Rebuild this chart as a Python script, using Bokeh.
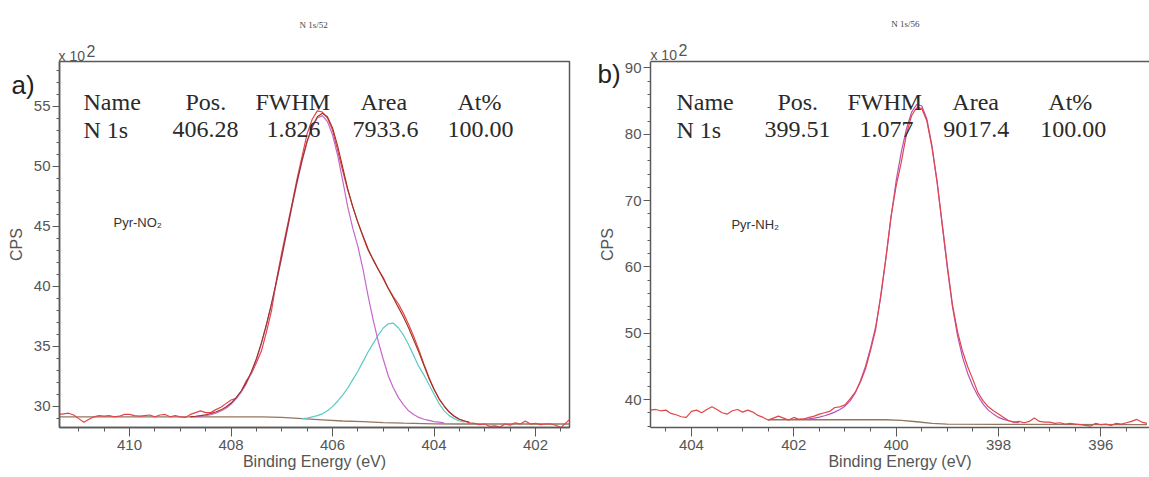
from bokeh.plotting import figure
from bokeh.layouts import row
from bokeh.models import Range1d, SingleIntervalTicker, Label, LinearAxis, FixedTicker
from bokeh.embed import file_html
from bokeh.resources import INLINE

# ---------------- Panel a) Pyr-NO2, N 1s ----------------
a_raw_be = [411.4, 411.3, 411.2, 411.1, 411.0, 410.9, 410.8, 410.7, 410.6, 410.5,
            410.4, 410.3, 410.2, 410.1, 410.0, 409.9, 409.8, 409.7, 409.6, 409.5,
            409.4, 409.3, 409.2, 409.1, 409.0, 408.9, 408.8, 408.7, 408.6, 408.5,
            408.4, 408.3, 408.2, 408.1, 408.0, 407.9, 407.8, 407.7, 407.6, 407.5,
            407.4, 407.3, 407.2, 407.1, 407.0, 406.9, 406.8, 406.7, 406.6, 406.5,
            406.4, 406.3, 406.2, 406.1, 406.0, 405.9, 405.8, 405.7, 405.6, 405.5,
            405.4, 405.3, 405.2, 405.1, 405.0, 404.9, 404.8, 404.7, 404.6, 404.5,
            404.4, 404.3, 404.2, 404.1, 404.0, 403.9, 403.8, 403.7, 403.6, 403.5,
            403.4, 403.3, 403.2, 403.1, 403.0, 402.9, 402.8, 402.7, 402.6, 402.5,
            402.4, 402.3, 402.2, 402.1, 402.0, 401.9, 401.8, 401.7, 401.6, 401.5,
            401.4, 401.3]
a_raw_cps = [29.30, 29.35, 29.40, 29.25, 28.95, 28.65, 28.90, 29.10, 29.20, 29.15,
             29.20, 29.10, 29.15, 29.30, 29.30, 29.20, 29.15, 29.20, 29.25, 29.10,
             29.25, 29.30, 29.10, 29.20, 29.10, 29.05, 29.30, 29.45, 29.60, 29.45,
             29.45, 29.70, 29.90, 30.20, 30.50, 30.65, 31.20, 32.10, 32.70, 33.60,
             34.60, 36.20, 38.00, 40.60, 42.80, 44.80, 46.80, 48.90, 50.80, 52.70,
             53.90, 54.60, 54.50, 54.00, 53.00, 51.30, 49.60, 48.00, 46.60, 45.30,
             44.10, 43.00, 42.20, 41.40, 40.70, 39.80, 39.10, 38.50, 37.70, 36.80,
             35.80, 34.70, 33.50, 32.40, 31.40, 30.60, 30.00, 29.50, 29.15, 28.90,
             28.75, 28.60, 28.55, 28.45, 28.50, 28.30, 28.35, 28.25, 28.50, 28.40,
             28.60, 28.50, 28.75, 28.50, 28.55, 28.45, 28.50, 28.50, 28.40, 28.20,
             28.60, 29.00]

a_env_be = [408.8, 408.7, 408.6, 408.5, 408.4, 408.3, 408.2, 408.1, 408.0, 407.9,
            407.8, 407.7, 407.6, 407.5, 407.4, 407.3, 407.2, 407.1, 407.0, 406.9,
            406.8, 406.7, 406.6, 406.5, 406.4, 406.3, 406.2, 406.1, 406.0, 405.9,
            405.8, 405.7, 405.6, 405.5, 405.4, 405.3, 405.2, 405.1, 405.0, 404.9,
            404.8, 404.7, 404.6, 404.5, 404.4, 404.3, 404.2, 404.1, 404.0, 403.9,
            403.8, 403.7, 403.6, 403.5, 403.4, 403.3]
a_env_cps = [29.12, 29.15, 29.20, 29.27, 29.37, 29.50, 29.68, 29.92, 30.25, 30.70,
             31.25, 31.95, 32.85, 33.95, 35.30, 36.85, 38.60, 40.50, 42.50, 44.60,
             46.70, 48.70, 50.50, 52.10, 53.30, 54.10, 54.40, 54.10, 53.20, 51.70,
             49.90, 48.10, 46.60, 45.30, 44.20, 43.10, 42.20, 41.40, 40.60, 39.80,
             39.00, 38.20, 37.40, 36.50, 35.50, 34.50, 33.40, 32.30, 31.40, 30.60,
             30.00, 29.50, 29.15, 28.90, 28.75, 28.65]

a_c1_be = [408.8, 408.7, 408.6, 408.5, 408.4, 408.3, 408.2, 408.1, 408.0, 407.9,
           407.8, 407.7, 407.6, 407.5, 407.4, 407.3, 407.2, 407.1, 407.0, 406.9,
           406.8, 406.7, 406.6, 406.5, 406.4, 406.3, 406.2, 406.1, 406.0, 405.9,
           405.8, 405.7, 405.6, 405.5, 405.4, 405.3, 405.2, 405.1, 405.0, 404.9,
           404.8, 404.7, 404.6, 404.5, 404.4, 404.3, 404.2, 404.1, 404.0, 403.9,
           403.8]
a_c1_cps = [29.10, 29.12, 29.15, 29.20, 29.28, 29.40, 29.58, 29.82, 30.15, 30.60,
            31.15, 31.85, 32.75, 33.85, 35.20, 36.75, 38.50, 40.40, 42.40, 44.50,
            46.60, 48.60, 50.40, 52.00, 53.20, 54.00, 54.20, 53.70, 52.60, 50.90,
            48.80, 46.60, 44.80, 43.30, 41.40, 39.20, 37.20, 35.40, 33.90, 32.50,
            31.50, 30.70, 30.10, 29.60, 29.30, 29.05, 28.90, 28.80, 28.70, 28.65,
            28.60]

a_c2_be = [406.6, 406.5, 406.4, 406.3, 406.2, 406.1, 406.0, 405.9, 405.8, 405.7,
           405.6, 405.5, 405.4, 405.3, 405.2, 405.1, 405.0, 404.9, 404.8, 404.7,
           404.6, 404.5, 404.4, 404.3, 404.2, 404.1, 404.0, 403.9, 403.8, 403.7,
           403.6, 403.5, 403.4]
a_c2_cps = [28.95, 29.00, 29.10, 29.20, 29.35, 29.60, 29.95, 30.40, 30.90, 31.50,
            32.20, 32.90, 33.70, 34.50, 35.20, 35.90, 36.50, 36.85, 36.90, 36.50,
            35.90, 35.10, 34.20, 33.30, 32.60, 31.80, 31.00, 30.20, 29.60, 29.20,
            28.95, 28.75, 28.65]

a_bg_be = [411.4, 407.4, 407.0, 406.6, 406.2, 405.8, 405.4, 405.0, 404.6, 404.0, 403.5, 401.3]
a_bg_cps = [29.10, 29.10, 29.05, 28.95, 28.85, 28.75, 28.70, 28.62, 28.57, 28.52, 28.50, 28.50]

a_table_head = ["Name", "Pos.", "FWHM", "Area", "At%"]
a_table_row = ["N 1s", "406.28", "1.826", "7933.6", "100.00"]

# ---------------- Panel b) Pyr-NH2, N 1s ----------------
b_raw_be = [404.8, 404.7, 404.6, 404.5, 404.4, 404.3, 404.2, 404.1, 404.0, 403.9,
            403.8, 403.7, 403.6, 403.5, 403.4, 403.3, 403.2, 403.1, 403.0, 402.9,
            402.8, 402.7, 402.6, 402.5, 402.4, 402.3, 402.2, 402.1, 402.0, 401.9,
            401.8, 401.7, 401.6, 401.5, 401.4, 401.3, 401.2, 401.1, 401.0, 400.9,
            400.8, 400.7, 400.6, 400.5, 400.4, 400.3, 400.2, 400.1, 400.0, 399.9,
            399.8, 399.7, 399.6, 399.5, 399.4, 399.3, 399.2, 399.1, 399.0, 398.9,
            398.8, 398.7, 398.6, 398.5, 398.4, 398.3, 398.2, 398.1, 398.0, 397.9,
            397.8, 397.7, 397.6, 397.5, 397.4, 397.3, 397.2, 397.1, 397.0, 396.9,
            396.8, 396.7, 396.6, 396.5, 396.4, 396.3, 396.2, 396.1, 396.0, 395.9,
            395.8, 395.7, 395.6, 395.5, 395.4, 395.3, 395.2, 395.1]
b_raw_cps = [38.40, 38.50, 38.30, 38.40, 37.90, 37.70, 37.40, 37.30, 38.20, 38.40,
             38.00, 38.50, 38.90, 38.50, 38.00, 37.80, 38.30, 38.50, 38.10, 38.40,
             38.10, 37.60, 37.30, 36.90, 37.20, 37.50, 37.20, 36.90, 37.30, 37.00,
             37.10, 37.30, 37.50, 37.80, 38.00, 38.20, 38.80, 38.90, 39.20, 40.10,
             41.10, 42.60, 44.60, 47.40, 50.60, 55.80, 61.40, 67.60, 72.20, 75.80,
             80.00, 82.80, 84.00, 83.90, 82.00, 78.00, 72.80, 66.50, 60.20, 54.30,
             50.20, 47.20, 44.90, 43.00, 41.00, 39.80, 38.90, 38.30, 37.80, 37.30,
             36.80, 36.60, 36.70, 36.50, 36.70, 37.20, 36.70, 36.60, 36.60, 36.40,
             36.50, 36.30, 36.40, 36.30, 36.20, 36.10, 36.00, 36.40, 36.20, 36.30,
             36.10, 36.40, 36.30, 36.50, 36.70, 37.00, 36.60, 36.40]

b_c1_be = [401.9, 401.8, 401.7, 401.6, 401.5, 401.4, 401.3, 401.2, 401.1, 401.0,
           400.9, 400.8, 400.7, 400.6, 400.5, 400.4, 400.3, 400.2, 400.1, 400.0,
           399.9, 399.8, 399.7, 399.6, 399.5, 399.4, 399.3, 399.2, 399.1, 399.0,
           398.9, 398.8, 398.7, 398.6, 398.5, 398.4, 398.3, 398.2, 398.1, 398.0,
           397.9, 397.8, 397.7, 397.6]
b_c1_cps = [37.00, 37.05, 37.10, 37.20, 37.35, 37.55, 37.80, 38.10, 38.50, 39.00,
            39.80, 41.00, 42.80, 45.00, 47.80, 51.00, 55.50, 61.30, 67.50, 73.00,
            77.30, 80.80, 83.30, 84.50, 84.30, 82.30, 78.30, 72.80, 66.30, 59.80,
            54.00, 49.60, 46.30, 43.90, 42.00, 40.50, 39.30, 38.40, 37.80, 37.30,
            37.00, 36.80, 36.60, 36.50]

b_bg_be = [402.5, 400.2, 399.9, 399.6, 399.3, 399.0, 398.0, 395.1]
b_bg_cps = [36.95, 36.95, 36.85, 36.65, 36.40, 36.30, 36.25, 36.20]

b_table_head = ["Name", "Pos.", "FWHM", "Area", "At%"]
b_table_row = ["N 1s", "399.51", "1.077", "9017.4", "100.00"]

# ---------------- styling ----------------
RAW = "#e2454a"
ENV = "#9c3320"
C1 = "#c468cc"
C1B = "#b652b8"
C2 = "#5ccac4"
BG = "#927660"
AX = "#5a5a5a"
TXT = "#555555"


def style_axes(p, x_int, y_int, y_minor):
    p.xgrid.visible = False
    p.ygrid.visible = False
    p.xaxis.ticker = SingleIntervalTicker(interval=x_int, num_minor_ticks=4)
    p.yaxis.ticker = SingleIntervalTicker(interval=y_int, num_minor_ticks=y_minor)
    p.xaxis.axis_label = "Binding Energy (eV)"
    p.yaxis.axis_label = "CPS"
    for ax in (p.xaxis, p.yaxis):
        ax.axis_line_color = AX
        ax.axis_line_width = 1.5
        ax.major_tick_line_color = AX
        ax.minor_tick_line_color = AX
        ax.major_tick_in = 0
        ax.minor_tick_in = 0
        ax.major_label_text_font = "Liberation Sans"
        ax.major_label_text_font_size = "15px"
        ax.major_label_text_color = TXT
        ax.axis_label_text_font = "Liberation Sans"
        ax.axis_label_text_font_size = "16px"
        ax.axis_label_text_font_style = "normal"
        ax.axis_label_text_color = TXT
    p.xaxis.major_tick_out = 9
    p.xaxis.minor_tick_out = 4
    p.xaxis.major_label_standoff = 3
    p.xaxis.axis_label_standoff = 0
    p.yaxis.major_tick_out = 7
    p.yaxis.minor_tick_out = 3
    p.yaxis.major_label_standoff = 2
    p.yaxis.axis_label_standoff = 6


def inner_label(p, x, y, text, size, font, color, align="left"):
    p.add_layout(Label(x=x, y=y, text=text, text_font_size=size, text_font=font,
                       text_color=color, text_align=align, text_baseline="alphabetic"))


def border_label(p, side, x, y, text, size, font, color, align="left"):
    # placed in a side panel (not clipped), positioned by the frame's data scales
    p.add_layout(Label(x=x, y=y, text=text, text_font_size=size, text_font=font,
                       text_color=color, text_align=align, text_baseline="alphabetic"), side)


# ---------------- figure a ----------------
pa = figure(width=580, height=477, x_range=Range1d(411.38, 401.33), y_range=Range1d(28.21, 58.71),
            output_backend="svg", toolbar_location=None,
            min_border_left=59, min_border_right=11, min_border_top=61, min_border_bottom=50)
pa.outline_line_color = AX
pa.outline_line_width = 1.5
style_axes(pa, 2, 5, 5)

pa.line(a_bg_be, a_bg_cps, line_color=BG, line_width=1.3)
pa.line(a_raw_be, a_raw_cps, line_color=RAW, line_width=1.2)
pa.line(a_c2_be, a_c2_cps, line_color=C2, line_width=1.2)
pa.line(a_c1_be, a_c1_cps, line_color=C1, line_width=1.2)
pa.line(a_env_be, a_env_cps, line_color=ENV, line_width=1.1)

# page-pixel -> data helpers for panel a (annotation placement only)
ax_ = lambda X: 410 - (X - 129) / 50.75
ay_ = lambda Y: 30 + (405.5 - Y) / 12.0

heads_x_a = [83, 185, 255, 360, 457]
row_x_a = [83, 172, 266, 352, 447]
for t, X in zip(a_table_head, heads_x_a):
    inner_label(pa, ax_(X), ay_(101), t, "24px", "Liberation Serif", "#2a2a2a")
for t, X in zip(a_table_row, row_x_a):
    inner_label(pa, ax_(X), ay_(129), t, "24px", "Liberation Serif", "#2a2a2a")
inner_label(pa, ax_(113), ay_(222), "Pyr-NO\u2082", "13px", "Liberation Sans", "#333333")
border_label(pa, "above", ax_(11), ay_(84), "a)", "26px", "Liberation Sans", "#222222")
border_label(pa, "above", ax_(58), ay_(55), "x 10", "14px", "Liberation Sans", TXT)
border_label(pa, "right", ax_(86), ay_(50), "2", "16px", "Liberation Sans", TXT)
border_label(pa, "above", ax_(313), ay_(24), "N 1s/52", "9px", "Liberation Serif", "#444444", align="center")

# ---------------- figure b ----------------
pb = figure(width=569, height=477, x_range=Range1d(404.80, 395.05), y_range=Range1d(35.78, 90.98),
            output_backend="svg", toolbar_location=None,
            min_border_left=70, min_border_right=0, min_border_top=61, min_border_bottom=50)
pb.outline_line_color = None
style_axes(pb, 2, 10, 5)
top_axis = LinearAxis(ticker=FixedTicker(ticks=[]), axis_line_color=AX, axis_line_width=1.5,
                      major_tick_out=0, minor_tick_out=0, major_label_standoff=0,
                      major_tick_line_color=None, minor_tick_line_color=None,
                      major_label_text_font_size="0px")
pb.add_layout(top_axis, "above")

pb.line(b_bg_be, b_bg_cps, line_color=BG, line_width=1.3)
pb.line(b_c1_be, b_c1_cps, line_color=C1B, line_width=1.2)
pb.line(b_raw_be, b_raw_cps, line_color=RAW, line_width=1.2)

bx_ = lambda X: 404 - (X - 691) / 51.2
by_ = lambda Y: 40 + (399 - Y) / 6.63

heads_x_b = [676, 777, 847, 952, 1048]
row_x_b = [676, 764, 859, 943, 1040]
for t, X in zip(b_table_head, heads_x_b):
    inner_label(pb, bx_(X), by_(101), t, "24px", "Liberation Serif", "#2a2a2a")
for t, X in zip(b_table_row, row_x_b):
    inner_label(pb, bx_(X), by_(129), t, "24px", "Liberation Serif", "#2a2a2a")
inner_label(pb, bx_(731), by_(224), "Pyr-NH\u2082", "13px", "Liberation Sans", "#333333")
border_label(pb, "above", bx_(597), by_(74), "b)", "26px", "Liberation Sans", "#222222")
border_label(pb, "above", bx_(650), by_(55), "x 10", "14px", "Liberation Sans", TXT)
border_label(pb, "left", bx_(678), by_(50), "2", "16px", "Liberation Sans", TXT)
border_label(pb, "above", bx_(905), by_(24), "N 1s/56", "9px", "Liberation Serif", "#444444", align="center")

layout = row(pa, pb)
open("out.html", "w").write(file_html(layout, INLINE))
